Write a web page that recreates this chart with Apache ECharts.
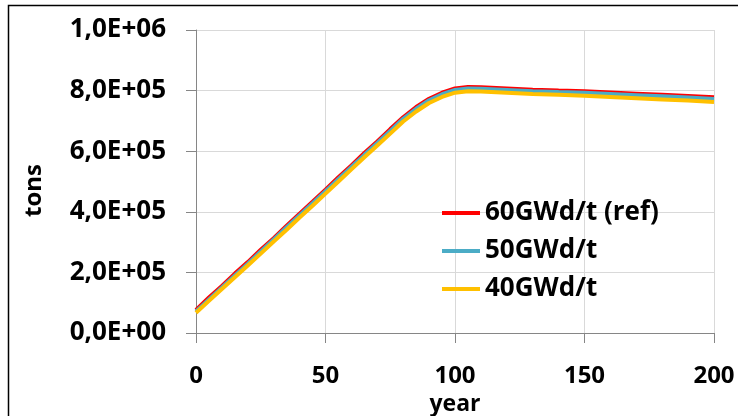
<!DOCTYPE html>
<html>
<head>
<meta charset="utf-8">
<script src="https://cdn.jsdelivr.net/npm/echarts@6/dist/echarts.min.js"></script>
<style>
html,body{margin:0;padding:0;background:#fff;}
#c{width:738px;height:416px;}
</style>
</head>
<body>
<div id="c"></div>
<script>
var years = [0,5,10,15,20,25,30,35,40,45,50,55,60,65,70,75,80,85,90,95,100,105,110,120,130,140,150,160,170,180,190,200];
var ref60 = [76000,117000,155000,196000,234000,275000,313000,354000,394000,433000,473000,514000,553000,594000,632000,673000,712000,746000,773000,793000,807000,812000,811000,807000,803000,800000,798000,794000,790000,786000,782000,778000];
var b50 =   [71000,111000,150000,190000,229000,269000,309000,349000,389000,428000,468000,508000,548000,588000,627000,667000,707000,740000,768000,788000,802000,807000,806000,802000,798000,795000,793000,789000,785000,781000,777000,772000];
var b40 =   [67000,106000,145000,184000,223000,262000,302000,341000,381000,420000,460000,500000,540000,580000,619000,658000,698000,731000,759000,779000,793000,798000,797000,793000,789000,786000,783000,779000,775000,771000,767000,762000];
var seriesNames = ['60GWd/t (ref)','50GWd/t','40GWd/t'];
var colors = ['#FF0000','#4BACC6','#FFC000'];
var xTicks = [0,50,100,150,200];
var yTickLabels = ['0,0E+00','2,0E+05','4,0E+05','6,0E+05','8,0E+05','1,0E+06'];

function pairs(xs, ys){ return xs.map(function(x,i){return [x, ys[i]];}); }
var datasets = [ref60, b50, b40];
var FONT = '"Open Sans", sans-serif';
var chart = echarts.init(document.getElementById('c'), null, {renderer:'canvas'});
chart.setOption({
  animation:false,
  backgroundColor:'#fff',
  graphic:[{type:'rect', shape:{x:8.5,y:5.5,width:800,height:500}, style:{fill:'none',stroke:'#000',lineWidth:1.5}, silent:true}],
  grid:{left:196,right:24,top:30,bottom:83,containLabel:false,outerBoundsMode:'none'},
  legend:{
    orient:'vertical', left:437, top:195,
    itemWidth:38, itemHeight:4, itemGap:12, icon:'rect',
    textStyle:{fontFamily:FONT,fontWeight:'bold',fontSize:26,color:'#000'},
    data:seriesNames
  },
  xAxis:{
    type:'value', min:0, max:200, interval:50,
    name:'year', nameLocation:'middle', nameGap:57,
    nameTextStyle:{fontFamily:FONT,fontWeight:'bold',fontSize:23,color:'#000'},
    axisLine:{show:true,lineStyle:{color:'#868686',width:1}},
    axisTick:{show:true,length:10,lineStyle:{color:'#868686'}},
    axisLabel:{fontFamily:FONT,fontWeight:'bold',fontSize:24,color:'#000',margin:31,
      formatter:function(v){return xTicks.indexOf(v)>=0?String(v):'';}},
    splitLine:{show:true,lineStyle:{color:'#D9D9D9',width:1}}
  },
  yAxis:{
    type:'value', min:0, max:1000000, interval:200000,
    name:'tons', nameLocation:'middle', nameGap:150, nameRotate:90,
    nameTextStyle:{fontFamily:FONT,fontWeight:'bold',fontSize:24,color:'#000',padding:[0,18,0,0]},
    axisLine:{show:true,lineStyle:{color:'#868686',width:1}},
    axisTick:{show:true,length:10,lineStyle:{color:'#868686'}},
    axisLabel:{fontFamily:FONT,fontWeight:'bold',fontSize:26,color:'#000',margin:30,
      formatter:function(v){return yTickLabels[Math.round(v/200000)];}},
    splitLine:{show:true,lineStyle:{color:'#D9D9D9',width:1}}
  },
  series: seriesNames.map(function(n,i){
    return {name:n,type:'line',data:pairs(years,datasets[i]),showSymbol:false,symbol:'none',
      color:colors[i], lineStyle:{color:colors[i],width:4}, z:2+i};
  })
});
</script>
</body>
</html>
